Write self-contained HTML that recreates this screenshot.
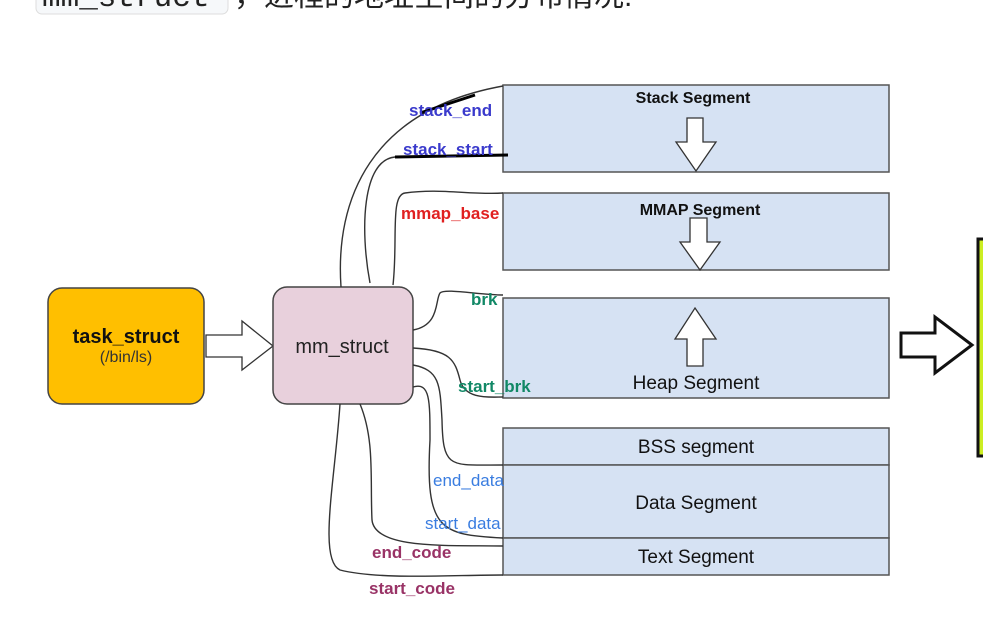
<!DOCTYPE html>
<html><head><meta charset="utf-8"><style>
html,body{margin:0;padding:0;background:#fff;width:983px;height:637px;overflow:hidden}
svg{display:block}
</style></head><body>
<svg width="983" height="637" viewBox="0 0 983 637" xmlns="http://www.w3.org/2000/svg" font-family="Liberation Sans, Noto Sans CJK SC, sans-serif">
<rect x="36" y="-20" width="192" height="34" rx="6" fill="#f6f8fa" stroke="#ddd"/>
<text x="42" y="6" font-family="Liberation Mono, monospace" font-size="31" fill="#222">mm_struct</text>
<text x="234" y="6" font-size="30" fill="#222" font-family="Liberation Sans, Noto Sans CJK SC, sans-serif">，进程的地址空间的分布情况.</text>

<g fill="#D6E2F3" stroke="#555" stroke-width="1.5">
<rect x="503" y="85" width="386" height="87"/>
<rect x="503" y="193" width="386" height="77"/>
<rect x="503" y="298" width="386" height="100"/>
<rect x="503" y="428" width="386" height="37"/>
<rect x="503" y="465" width="386" height="73"/>
<rect x="503" y="538" width="386" height="37"/>
</g>
<g fill="#fff" stroke="#333" stroke-width="1.3">
<polygon points="687,118 703,118 703,142 716,142 696,171 676,142 687,142"/>
<polygon points="690,218 707,218 707,242 720,242 700,270 680,242 690,242"/>
<polygon points="695,308 716,339 703,339 703,366 687,366 687,339 675,339"/>
</g>
<g font-size="16" font-weight="bold" fill="#111" text-anchor="middle">
<text x="693" y="103">Stack Segment</text>
<text x="700" y="215">MMAP Segment</text>
</g>
<g font-size="19" fill="#111" text-anchor="middle">
<text x="696" y="389">Heap Segment</text>
<text x="696" y="453">BSS segment</text>
<text x="696" y="509">Data Segment</text>
<text x="696" y="563">Text Segment</text>
</g>

<rect x="48" y="288" width="156" height="116" rx="14" fill="#FFBF00" stroke="#444" stroke-width="1.5"/>
<text x="126" y="343" font-size="20" font-weight="bold" text-anchor="middle" fill="#111">task_struct</text>
<text x="126" y="362" font-size="16" text-anchor="middle" fill="#333">(/bin/ls)</text>
<polygon points="206,335 242,335 242,321 273,346 242,370 242,357 206,357" fill="#fff" stroke="#333" stroke-width="1.3"/>
<rect x="273" y="287" width="140" height="117" rx="14" fill="#E8D0DC" stroke="#444" stroke-width="1.5"/>
<text x="342" y="353" font-size="20" text-anchor="middle" fill="#222">mm_struct</text>

<g fill="none" stroke="#333" stroke-width="1.4">
<path d="M341,287 C335,200 370,110 503,86"/>
<path d="M370,283 C360,230 362,160 395,157 L508,155"/>
<path d="M393,285 C398,240 390,195 405,193 C440,188 470,195 503,193"/>
<path d="M413,330 C440,325 435,300 440,293 C445,288 480,295 503,295"/>
<path d="M413,348 C450,350 455,360 460,380 C465,400 490,397 503,397"/>
<path d="M413,365 C440,370 440,385 442,420 C443,470 450,465 503,465"/>
<path d="M413,387 C430,382 430,400 430,440 C425,530 440,535 503,538"/>
<path d="M360,404 C375,440 370,480 372,520 C375,550 450,545 503,546"/>
<path d="M340,404 C335,480 318,560 340,570 C380,580 450,575 503,575"/>
</g>
<g stroke="#000" stroke-width="3"><line x1="420" y1="113" x2="475" y2="95"/><line x1="395" y1="157" x2="508" y2="155"/></g>
<g font-size="17" font-weight="bold">
<text x="409" y="116" fill="#3a3acc">stack_end</text>
<text x="403" y="155" fill="#3a3acc">stack_start</text>
<text x="401" y="219" fill="#e02020">mmap_base</text>
<text x="471" y="305" fill="#118866">brk</text>
<text x="458" y="392" fill="#118866">start_brk</text>
<text x="433" y="486" fill="#3a7de0" font-weight="normal">end_data</text>
<text x="425" y="529" fill="#3a7de0" font-weight="normal">start_data</text>
<text x="372" y="558" fill="#993366">end_code</text>
<text x="369" y="594" fill="#993366">start_code</text>
</g>

<polygon points="901,333 935,333 935,317 972,345 935,373 935,357 901,357" fill="#fff" stroke="#111" stroke-width="3"/>
<rect x="978" y="239" width="20" height="217" fill="#CCEE22" stroke="#111" stroke-width="3"/>
</svg>
</body></html>
